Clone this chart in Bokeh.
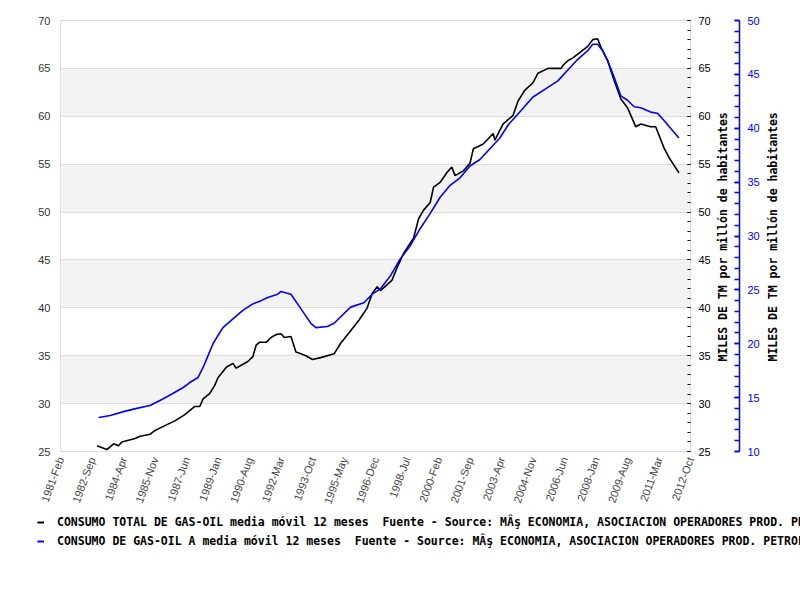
import math
from bokeh.plotting import figure
from bokeh.layouts import column
from bokeh.models import (Range1d, LinearAxis, FixedTicker, SingleIntervalTicker,
                          Legend, LegendItem, ColumnDataSource)
from bokeh.embed import file_html
from bokeh.resources import INLINE

# ---------------- data ----------------
total_dates = ["1982-12", "1983-06", "1983-10", "1984-01", "1984-03", "1984-11", "1985-02",
               "1985-08", "1985-11", "1986-05", "1986-11", "1987-05", "1987-11", "1988-02",
               "1988-04", "1988-08", "1988-11", "1989-01", "1989-06", "1989-10", "1989-12",
               "1990-03", "1990-07", "1990-10", "1990-12", "1991-02", "1991-06", "1991-09",
               "1991-12", "1992-03", "1992-05", "1992-09", "1992-12", "1993-03", "1993-06",
               "1993-10", "1994-03", "1994-11", "1995-03", "1995-09", "1996-02", "1996-07",
               "1996-10", "1997-01", "1997-03", "1997-10", "1998-01", "1998-05", "1998-11",
               "1999-02", "1999-05", "1999-09", "1999-11", "2000-03", "2000-07", "2000-10",
               "2000-12", "2001-05", "2001-09", "2001-11", "2002-05", "2002-11", "2002-12",
               "2003-05", "2003-11", "2004-02", "2004-06", "2004-11", "2005-02", "2005-08",
               "2006-04", "2006-05", "2006-08", "2006-11", "2007-02", "2007-08", "2007-11",
               "2008-02", "2008-04", "2008-08", "2008-12", "2009-04", "2009-08", "2010-01",
               "2010-04", "2010-10", "2011-01", "2011-06", "2011-09", "2011-12", "2012-03"]
total_values = [25.6, 25.2, 25.8, 25.6, 26.0, 26.35, 26.6,
                26.8, 27.2, 27.7, 28.2, 28.85, 29.7, 29.7,
                30.5, 31.05, 31.9, 32.7, 33.8, 34.2, 33.7,
                34.0, 34.4, 34.9, 36.1, 36.4, 36.4, 36.9,
                37.2, 37.3, 36.9, 37.0, 35.4, 35.2, 35.0,
                34.6, 34.8, 35.2, 36.3, 37.6, 38.7, 40.0,
                41.5, 42.2, 41.8, 42.9, 44.2, 45.7, 47.3,
                49.3, 50.2, 51.0, 52.6, 53.1, 54.1, 54.7,
                53.8, 54.3, 55.1, 56.6, 57.1, 58.2, 57.5,
                59.2, 60.1, 61.6, 62.7, 63.5, 64.5, 65.0,
                65.0, 65.3, 65.8, 66.1, 66.5, 67.3, 68.0,
                68.1, 67.2, 65.8, 63.7, 61.8, 60.9, 58.9,
                59.2, 58.9, 58.9, 56.7, 55.7, 54.9, 54.1]

a_dates = ["1983-01", "1983-08", "1984-04", "1984-12", "1985-08", "1986-04", "1986-10",
           "1987-04", "1987-08", "1988-01", "1988-04", "1988-07", "1988-10", "1989-01",
           "1989-04", "1989-10", "1990-04", "1990-10", "1991-03", "1991-07", "1992-01",
           "1992-03", "1992-09", "1993-01", "1993-05", "1993-09", "1993-12", "1994-07",
           "1994-11", "1995-09", "1996-05", "1996-10", "1997-03", "1997-09", "1998-03",
           "1998-09", "1999-03", "1999-09", "2000-03", "2000-09", "2001-03", "2001-09",
           "2002-03", "2002-09", "2003-03", "2003-08", "2004-03", "2004-11", "2005-08",
           "2006-02", "2006-08", "2007-02", "2007-08", "2007-11", "2008-02", "2008-05",
           "2008-08", "2008-12", "2009-04", "2009-08", "2009-12", "2010-04", "2010-10",
           "2011-02", "2011-05", "2011-10", "2012-03"]
a_values = [13.16, 13.34, 13.7, 14.0, 14.27, 14.9, 15.4,
            15.94, 16.4, 16.87, 17.8, 18.9, 20.0, 20.77,
            21.5, 22.3, 23.1, 23.7, 24.0, 24.3, 24.6,
            24.85, 24.6, 23.7, 22.8, 21.9, 21.5, 21.6,
            21.9, 23.4, 23.8, 24.6, 25.1, 26.3, 27.9,
            29.1, 30.7, 32.1, 33.6, 34.7, 35.4, 36.5,
            37.1, 38.1, 39.1, 40.3, 41.5, 42.9, 43.8,
            44.4, 45.4, 46.4, 47.2, 47.8, 47.8, 47.2,
            46.3, 44.7, 43.0, 42.6, 42.0, 41.9, 41.5,
            41.4, 40.9, 40.0, 39.1]

x_tick_labels = ["1981-Feb", "1982-Sep", "1984-Apr", "1985-Nov", "1987-Jun", "1989-Jan",
                 "1990-Aug", "1992-Mar", "1993-Oct", "1995-May", "1996-Dec", "1998-Jul",
                 "2000-Feb", "2001-Sep", "2003-Apr", "2004-Nov", "2006-Jun", "2008-Jan",
                 "2009-Aug", "2011-Mar", "2012-Oct"]

label_total = ("CONSUMO TOTAL DE GAS-OIL media móvil 12 meses\u00a0 Fuente - Source: MÂş ECONOMIA, "
               "ASOCIACION OPERADORES PROD. PETROLIFEROS")
label_a = ("CONSUMO DE GAS-OIL A media móvil 12 meses\u00a0 Fuente - Source: MÂş ECONOMIA, "
           "ASOCIACION OPERADORES PROD. PETROLIFEROS")
axis_title = "MILES DE TM por millón de habitantes"


def month_index(s):
    y, m = s.split("-")
    return (int(y) - 1981) * 12 + int(m) - 2


x_ticks = [i * 19 for i in range(len(x_tick_labels))]

src_total = ColumnDataSource(dict(x=[month_index(d) for d in total_dates], y=total_values))
src_a = ColumnDataSource(dict(x=[month_index(d) for d in a_dates], y=a_values))

MONO = "DejaVu Sans Mono"
SANS = "Liberation Sans"

p = figure(width=800, height=511, output_backend="svg", toolbar_location=None,
           x_range=Range1d(0, 380), y_range=Range1d(25, 70),
           min_border_left=60, min_border_top=20, min_border_right=110,
           min_border_bottom=60, background_fill_color="white",
           border_fill_color="white", outline_line_color="#dddddd")
p.frame_align = False
p.extra_y_ranges = {"a": Range1d(10, 50)}

# grid
p.xgrid.grid_line_color = None
p.ygrid.ticker = SingleIntervalTicker(interval=5)
p.ygrid.grid_line_color = "#dddddd"
p.ygrid.band_fill_color = "#f3f3f3"
p.ygrid.band_fill_alpha = 1.0

# left axis
ya = p.yaxis[0]
ya.ticker = SingleIntervalTicker(interval=5, num_minor_ticks=0)
ya.axis_line_color = None
ya.major_tick_line_color = None
ya.minor_tick_line_color = None
ya.major_tick_out = 0
ya.minor_tick_out = 0
ya.major_label_standoff = 10
ya.major_label_text_font = SANS
ya.major_label_text_font_size = "11px"
ya.major_label_text_color = "#333333"

# bottom axis
xa = p.xaxis[0]
xa.ticker = FixedTicker(ticks=x_ticks)
xa.major_label_overrides = {t: l for t, l in zip(x_ticks, x_tick_labels)}
xa.major_label_orientation = math.radians(70)
xa.axis_line_color = None
xa.major_tick_line_color = None
xa.minor_tick_line_color = None
xa.major_tick_out = 0
xa.minor_tick_out = 0
xa.major_label_standoff = 6
xa.major_label_text_font = SANS
xa.major_label_text_font_size = "11px"
xa.major_label_text_color = "#444444"

HAS_ALIGN = hasattr(LinearAxis(), "axis_label_align")


def style_title(ax, standoff):
    ax.axis_label_text_font = MONO
    ax.axis_label_text_font_style = "bold"
    ax.axis_label_text_font_size = "11.5px"
    ax.axis_label_text_color = "black"
    ax.axis_label_standoff = standoff
    if HAS_ALIGN:
        # text reads bottom-to-top, starting from the lower part of the axis
        ax.axis_label = "\u00a0" * 13 + axis_title
        ax.axis_label_orientation = math.pi / 2
        ax.axis_label_align = "start"
    else:
        ax.axis_label = axis_title


# right black axis
rb = LinearAxis(ticker=SingleIntervalTicker(interval=5, num_minor_ticks=5))
rb.axis_line_color = None
rb.major_tick_in = 3
rb.major_tick_out = 0
rb.minor_tick_in = 3
rb.minor_tick_out = 0
rb.major_tick_line_color = "black"
rb.minor_tick_line_color = "black"
rb.major_label_standoff = 8
rb.major_label_text_font = SANS
rb.major_label_text_font_size = "11px"
rb.major_label_text_color = "black"
style_title(rb, 9)
p.add_layout(rb, "right")

# right blue axis
ra = LinearAxis(y_range_name="a", ticker=SingleIntervalTicker(interval=5, num_minor_ticks=5))
ra.axis_line_color = "blue"
ra.axis_line_width = 1.5
ra.major_tick_in = 5
ra.major_tick_out = 0
ra.minor_tick_in = 5
ra.minor_tick_out = 0
ra.major_tick_line_color = "blue"
ra.minor_tick_line_color = "blue"
ra.major_tick_line_width = 1.5
ra.minor_tick_line_width = 1.5
ra.major_label_standoff = 8
ra.major_label_text_font = SANS
ra.major_label_text_font_size = "11px"
ra.major_label_text_color = "blue"
style_title(ra, 10)
p.add_layout(ra, "right")

# lines
r_total = p.line("x", "y", source=src_total, line_color="black", line_width=1.6)
r_a = p.line("x", "y", source=src_a, line_color="blue", line_width=1.6, y_range_name="a")

# legend strip below the chart
q = figure(width=800, height=70, output_backend="svg", toolbar_location=None,
           x_range=Range1d(0, 1), y_range=Range1d(0, 1),
           x_axis_location=None, y_axis_location=None, min_border=0,
           outline_line_color=None, background_fill_color="white",
           border_fill_color="white")
q.frame_align = False
q.grid.visible = False
g_total = q.line([5, 6], [5, 6], line_color="black", line_width=2)
g_a = q.line([5, 6], [5, 6], line_color="blue", line_width=2)

legend = Legend(items=[LegendItem(label=label_total, renderers=[g_total]),
                       LegendItem(label=label_a, renderers=[g_a])],
                location=(37, 33), orientation="vertical",
                border_line_color=None, background_fill_alpha=0,
                label_text_font=MONO, label_text_font_style="bold",
                label_text_font_size="11.5px", label_text_color="black",
                label_text_baseline="alphabetic",
                glyph_width=7, glyph_height=14, label_height=14,
                label_standoff=13, spacing=5, padding=0, margin=0)
q.add_layout(legend, "center")

layout = column(p, q)
open("out.html", "w").write(file_html(layout, INLINE))
